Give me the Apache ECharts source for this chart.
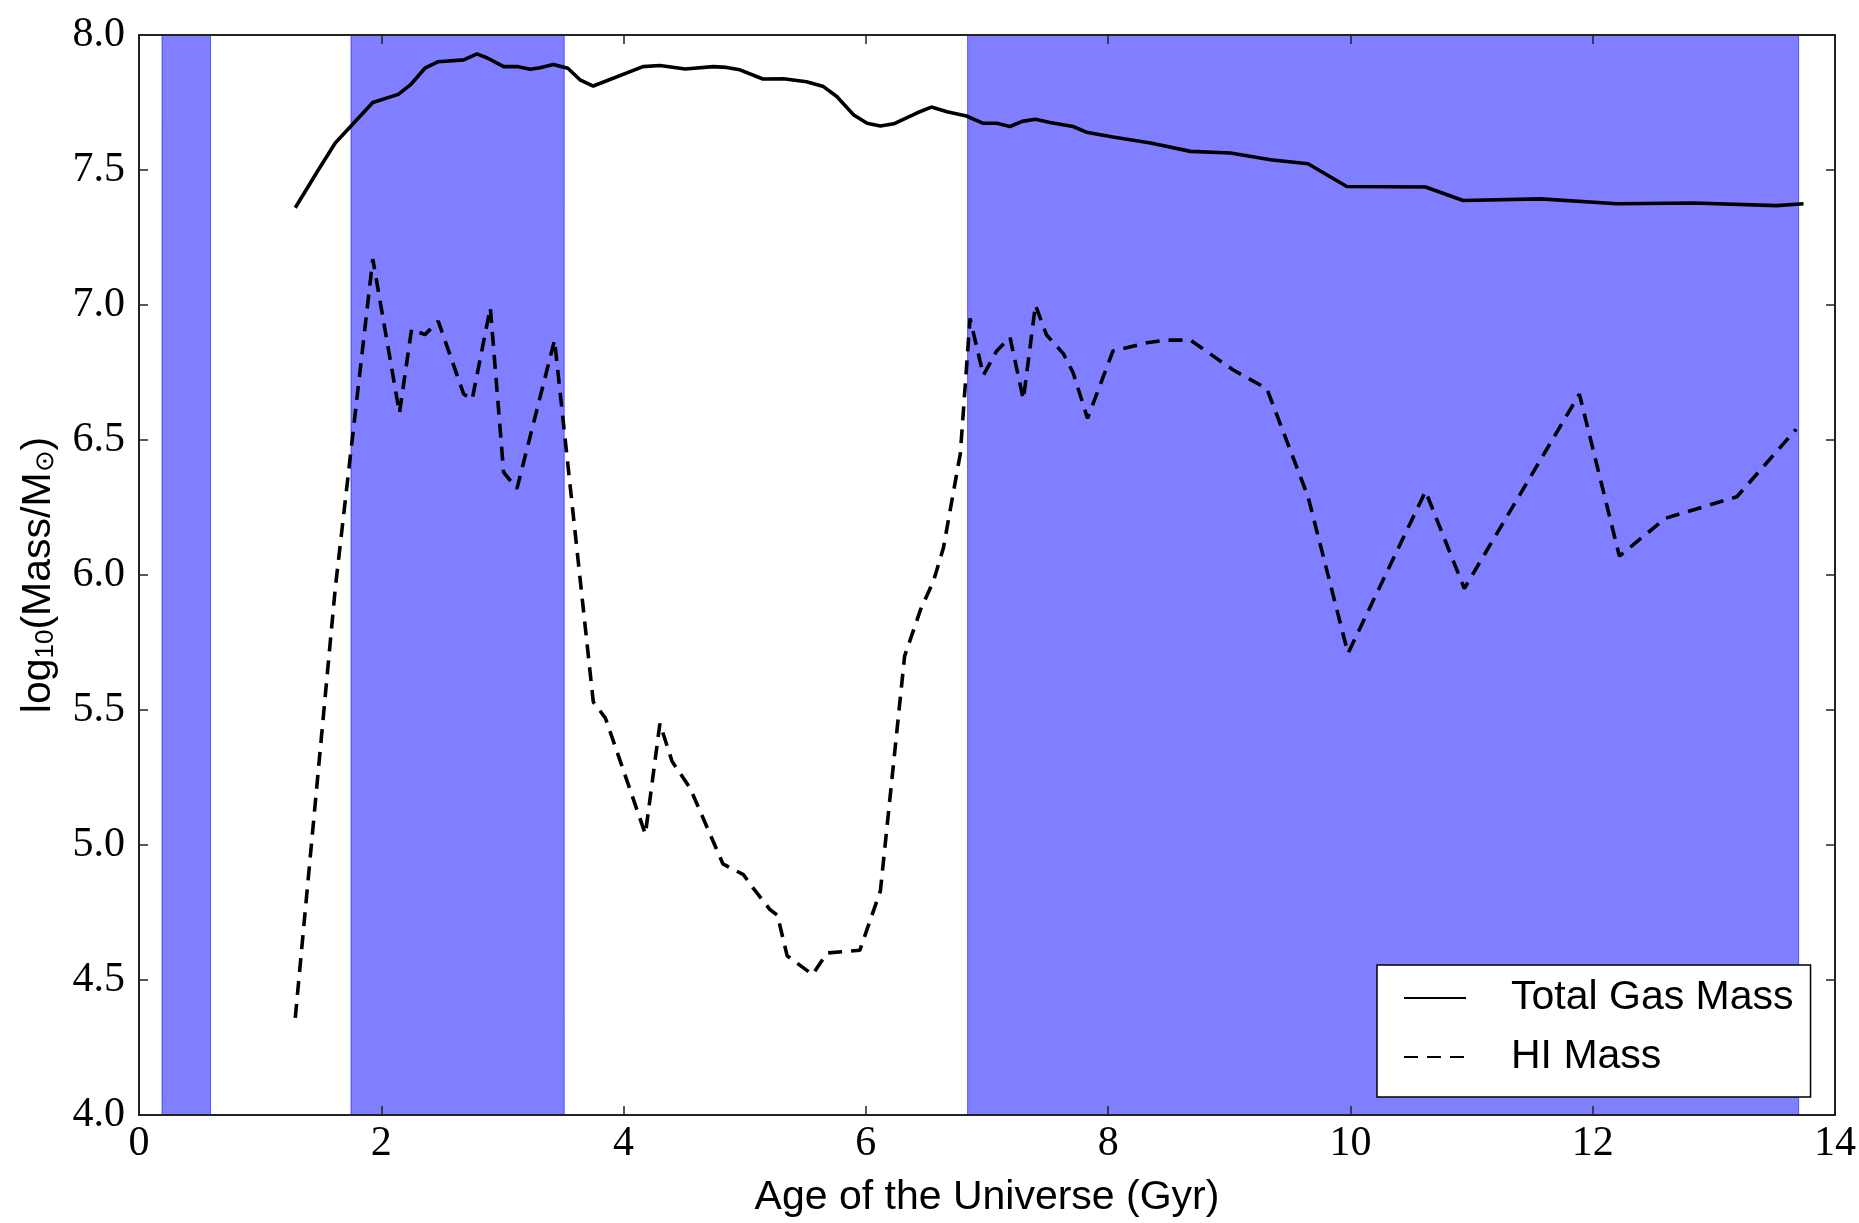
<!DOCTYPE html>
<html>
<head>
<meta charset="utf-8">
<script src="https://cdn.jsdelivr.net/npm/echarts@6/dist/echarts.min.js"></script>
<style>
  html, body { margin: 0; padding: 0; background: #fff; }
  #chart { width: 1859px; height: 1223px; }
</style>
</head>
<body>
<div id="chart"></div>
<script>
// total gas mass, log10(M/Msun) vs age (Gyr)
const totalAge = [1.29, 1.48, 1.62, 1.93, 2.14, 2.24, 2.36, 2.47, 2.68, 2.79,
    2.88, 3.01, 3.12, 3.23, 3.31, 3.42, 3.54, 3.64, 3.75, 4.16,
    4.30, 4.51, 4.74, 4.85, 4.96, 5.15, 5.32, 5.51, 5.65, 5.76,
    5.90, 6.01, 6.12, 6.23, 6.42, 6.54, 6.67, 6.83, 6.97, 7.08,
    7.19, 7.29, 7.40, 7.52, 7.71, 7.82, 8.04, 8.35, 8.68, 9.01,
    9.34, 9.65, 9.97, 10.62, 10.93, 11.57, 12.20, 12.83, 13.52, 13.74];
const totalMass = [7.36, 7.50, 7.60, 7.75, 7.78, 7.815, 7.877, 7.901, 7.908, 7.930,
    7.914, 7.883, 7.883, 7.873, 7.879, 7.891, 7.877, 7.834, 7.811, 7.883,
    7.887, 7.874, 7.883, 7.880, 7.871, 7.837, 7.838, 7.827, 7.809, 7.772,
    7.704, 7.673, 7.663, 7.671, 7.711, 7.733, 7.716, 7.700, 7.673, 7.673,
    7.661, 7.680, 7.688, 7.676, 7.661, 7.640, 7.622, 7.600, 7.569, 7.563,
    7.538, 7.523, 7.439, 7.437, 7.387, 7.393, 7.375, 7.378, 7.368, 7.375];

// HI mass
const hiAge = [1.29, 1.62, 1.93, 2.15, 2.25, 2.36, 2.47, 2.68, 2.75, 2.90,
    3.01, 3.12, 3.43, 3.75, 3.85, 4.18, 4.30, 4.40, 4.55, 4.82,
    4.99, 5.07, 5.21, 5.27, 5.35, 5.56, 5.68, 5.95, 6.12, 6.32,
    6.45, 6.56, 6.64, 6.78, 6.86, 6.97, 7.08, 7.19, 7.30, 7.40,
    7.49, 7.63, 7.71, 7.83, 8.04, 8.32, 8.48, 8.68, 9.03, 9.31,
    9.65, 9.98, 10.62, 10.94, 11.89, 12.22, 12.60, 13.19, 13.68];
const hiMass = [4.36, 5.95, 7.17, 6.60, 6.91, 6.89, 6.94, 6.67, 6.65, 6.99,
    6.38, 6.32, 6.87, 5.53, 5.47, 5.04, 5.45, 5.31, 5.21, 4.93,
    4.89, 4.84, 4.76, 4.74, 4.59, 4.52, 4.60, 4.61, 4.83, 5.70,
    5.87, 5.98, 6.10, 6.45, 6.95, 6.74, 6.83, 6.88, 6.65, 7.00,
    6.89, 6.82, 6.75, 6.58, 6.83, 6.86, 6.87, 6.87, 6.76, 6.69,
    6.29, 5.71, 6.31, 5.95, 6.67, 6.07, 6.21, 6.29, 6.54];

// shaded periods (Gyr)
const bandStart = [0.19, 1.75, 6.84];
const bandEnd = [0.59, 3.51, 13.70];

const seriesNames = ['Total Gas Mass', 'HI Mass'];

const SERIF = 'Liberation Serif';
const SANS = 'Liberation Sans';

const zip = (xs, ys) => xs.map((x, i) => [x, ys[i]]);

const tickLabel = {
    fontFamily: SERIF,
    fontSize: 42,
    color: '#000',
};

const baseX = {
    type: 'value',
    min: 0,
    max: 14,
    interval: 2,
    z: 10,
    splitLine: {show: false},
    axisLine: {show: true, onZero: false, lineStyle: {color: '#222', width: 2}},
    axisTick: {show: true, inside: true, length: 9, lineStyle: {color: '#222', width: 1.5}},
};

const baseY = {
    type: 'value',
    min: 4,
    max: 8,
    interval: 0.5,
    z: 10,
    splitLine: {show: false},
    axisLine: {show: true, onZero: false, lineStyle: {color: '#222', width: 2}},
    axisTick: {show: true, inside: true, length: 9, lineStyle: {color: '#222', width: 1.5}},
};

const chart = echarts.init(document.getElementById('chart'));

chart.setOption({
    animation: false,
    backgroundColor: '#fff',
    grid: {left: 139, right: 24, top: 35, bottom: 106},
    xAxis: [
        Object.assign({}, baseX, {
            position: 'bottom',
            axisLabel: Object.assign({margin: 8}, tickLabel),
            name: 'Age of the Universe (Gyr)',
            nameLocation: 'middle',
            nameGap: 62,
            nameTextStyle: {fontFamily: SANS, fontSize: 41, color: '#000'},
        }),
        Object.assign({}, baseX, {position: 'top', axisLabel: {show: false}}),
    ],
    yAxis: [
        Object.assign({}, baseY, {
            position: 'left',
            axisLabel: Object.assign({margin: 14, formatter: (v) => v.toFixed(1)}, tickLabel),
            name: '{m|log}{s|10}{m|(Mass/M}{s|⊙}{m|)}',
            nameLocation: 'middle',
            nameGap: 80,
            nameTextStyle: {
                fontFamily: SANS,
                fontSize: 41,
                color: '#000',
                rich: {
                    m: {fontFamily: SANS, fontSize: 41, lineHeight: 46, verticalAlign: 'bottom', color: '#000'},
                    s: {fontFamily: SANS, fontSize: 26, lineHeight: 20, verticalAlign: 'bottom', color: '#000'},
                },
            },
        }),
        Object.assign({}, baseY, {position: 'right', axisLabel: {show: false}}),
    ],
    legend: {
        data: seriesNames,
        orient: 'vertical',
        left: 1377,
        top: 965,
        padding: [10, 17, 17, 26],
        itemWidth: 62,
        itemHeight: 20,
        itemGap: 13,
        backgroundColor: '#fff',
        borderColor: '#000',
        borderWidth: 1.5,
        borderRadius: 0,
        itemStyle: {opacity: 0},
        textStyle: {
            fontFamily: SANS,
            fontSize: 41,
            lineHeight: 46,
            color: '#000',
            padding: [0, 0, 0, 40],
        },
    },
    series: [
        {
            name: seriesNames[0],
            type: 'line',
            data: zip(totalAge, totalMass),
            showSymbol: false,
            symbol: 'none',
            lineStyle: {color: '#000', width: 3.6},
            itemStyle: {color: '#000'},
            z: 3,
            markArea: {
                silent: true,
                itemStyle: {
                    color: 'rgba(0, 0, 255, 0.5)',
                    borderColor: 'rgba(0, 0, 255, 0.55)',
                    borderWidth: 1,
                },
                data: bandStart.map((s, i) => [{xAxis: s}, {xAxis: bandEnd[i]}]),
            },
        },
        {
            name: seriesNames[1],
            type: 'line',
            data: zip(hiAge, hiMass),
            showSymbol: false,
            symbol: 'none',
            lineStyle: {color: '#000', width: 3.6, type: [14, 9]},
            itemStyle: {color: '#000'},
            z: 3,
        },
    ],
});
</script>
</body>
</html>
